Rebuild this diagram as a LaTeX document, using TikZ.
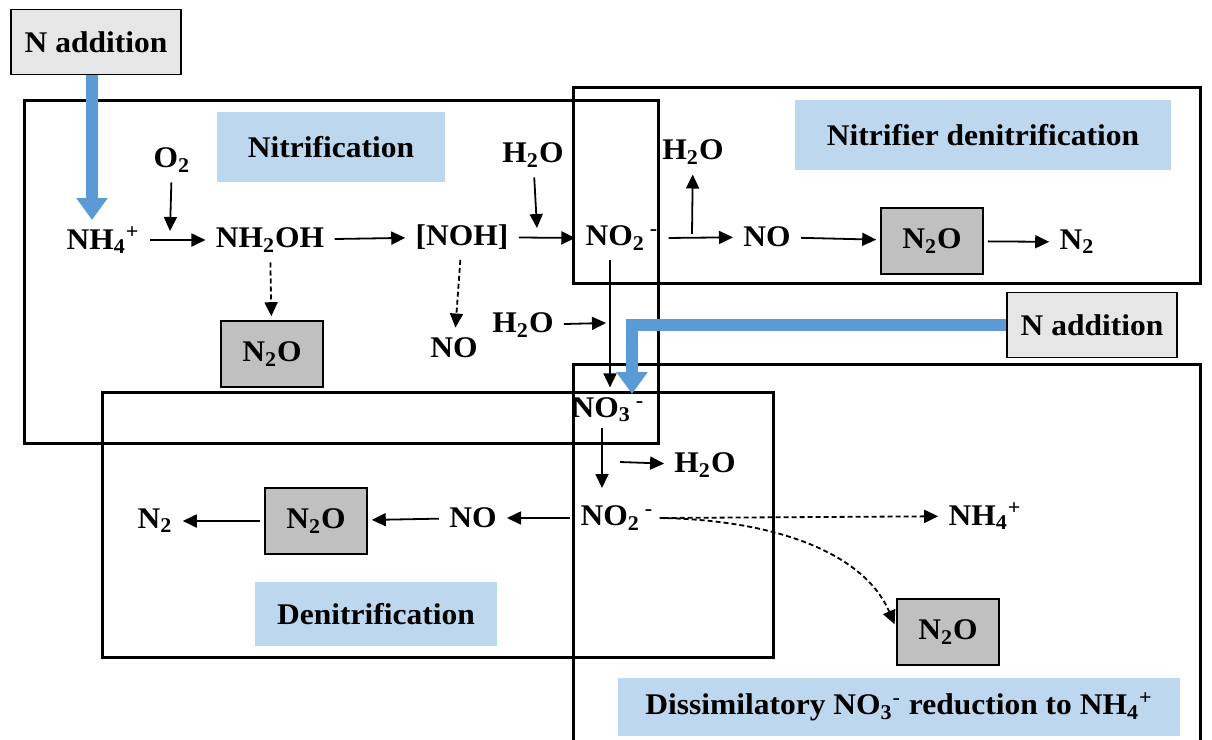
\documentclass[tikz,border=0pt]{standalone}
\usepackage{fontspec}
\setmainfont{Liberation Serif}[FakeStretch=1.05]
\usetikzlibrary{arrows.meta,calc}
\definecolor{cblue}{HTML}{5B9BD5}
\definecolor{clab}{HTML}{BDD7EE}
\definecolor{cgas}{HTML}{C0C0C0}
\definecolor{cadd}{HTML}{E7E6E6}
\newcommand{\ion}[2]{\textsubscript{#1}\textsuperscript{#2}}

\begin{document}
\begin{tikzpicture}[
  x=0.5pt, y=-0.5pt,
  font=\fontsize{15pt}{18pt}\selectfont\bfseries,
  >={Triangle[length=7pt,width=6.5pt]},
  sp/.style={inner sep=3pt},
  lab/.style={fill=clab, inner sep=0pt},
  gas/.style={draw, fill=cgas, line width=0.8pt, minimum width=51pt, minimum height=33pt},
  add/.style={draw, fill=cadd, line width=0.9pt, minimum width=85pt, minimum height=32.5pt},
  zone/.style={draw, line width=1.5pt},
  rx/.style={->, line width=0.9pt, shorten >=2pt, shorten <=2pt},
  rxd/.style={rx, dash pattern=on 2.5pt off 1.5pt},
  feed/.style={-{Triangle[length=11pt,width=15pt]}, line width=6pt, draw=cblue},
]
\useasboundingbox (0,0) rectangle (1212,740);

% ---- process zones ----
\draw[zone] (24,100) rectangle (658,443);
\draw[zone] (573,87) rectangle (1200,283);
\draw[zone] (102,392) rectangle (773,657);
\draw[zone] (573,745) -- (573,364) -- (1200,364) -- (1200,745);

% ---- zone labels ----
\node[lab, minimum width=114pt, minimum height=35pt] (labnit) at (331,147) {Nitrification};
\node[lab, minimum width=188pt, minimum height=35pt] (labnd) at (983,135) {Nitrifier denitrification};
\node[lab, minimum width=121pt, minimum height=32pt] (labden) at (376,614) {Denitrification};
\node[lab, minimum width=281pt, minimum height=29pt] (labdnra) at (899,707)
  {Dissimilatory NO\ion{3}{-} reduction to NH\ion{4}{+}};

% ---- N inputs ----
\node[add] (addA) at (96,42) {N addition};
\node[add] (addB) at (1092,325) {N addition};

% ---- nitrification ----
\node[sp] (nh4a) at (103,240) {NH\ion{4}{+}};
\node[sp] (o2) at (172,160) {O\textsubscript{2}};
\node[sp] (nh2oh) at (270,240) {NH\textsubscript{2}OH};
\node[sp] (noh) at (462,237) {[NOH]};
\node[sp] (h2oa) at (533,155) {H\textsubscript{2}O};
\node[sp] (no2a) at (622,238) {NO\textsubscript{2}\,\textsuperscript{-}};
\node[gas] (n2ob) at (272,354) {N\textsubscript{2}O};
\node[sp] (nob) at (454,348) {NO};
\node[sp] (h2oc) at (523,325) {H\textsubscript{2}O};

% ---- nitrifier denitrification ----
\node[sp] (h2ob) at (693,152) {H\textsubscript{2}O};
\node[sp] (noa) at (767,237) {NO};
\node[gas] (n2oa) at (932,241) {N\textsubscript{2}O};
\node[sp] (n2a) at (1077,242) {N\textsubscript{2}};

% ---- denitrification / DNRA ----
\node[sp] (no3) at (608,410) {NO\textsubscript{3}\,\textsuperscript{-}};
\node[sp] (h2od) at (705,465) {H\textsubscript{2}O};
\node[sp] (no2b) at (617,518) {NO\textsubscript{2}\,\textsuperscript{-}};
\node[sp] (noc) at (473,518) {NO};
\node[gas] (n2oc) at (316,521) {N\textsubscript{2}O};
\node[sp] (n2b) at (155,521) {N\textsubscript{2}};
\node[sp] (nh4b) at (985,516) {NH\textsubscript{4}\textsuperscript{+}};
\node[gas] (n2od) at (948,632) {N\textsubscript{2}O};

% ---- free ends on reaction lines ----
\coordinate (o2in) at (170,231);
\coordinate (h2oain) at (537,228);
\coordinate (h2obout) at (692,234);
\coordinate (h2ocin) at (606,323);
\coordinate (nh4in) at (92,220);
\coordinate (no3in) at (632,394);
\coordinate (no3out) at (602,428);
\coordinate (no2bin) at (602,492);
\coordinate (h2odout) at (620,462);

% ---- flows ----
\draw[rx] (nh4a) -- (nh2oh);
\draw[rx, shorten >=0pt] (o2) -- (o2in);
\draw[rx] (nh2oh) -- (noh);
\draw[rx, shorten >=0pt] (h2oa) -- (h2oain);
\draw[rx] (noh) -- (no2a.west);
\draw[rx] (no2a.east) -- (noa);
\draw[rx, shorten <=0pt] (h2obout) -- (h2ob);
\draw[rx] (noa) -- (n2oa);
\draw[rx] (n2oa) -- (n2a);
\draw[rxd] (nh2oh) -- (n2ob);
\draw[rxd] (noh) -- (nob);
\draw[rx, shorten >=0pt] (h2oc) -- (h2ocin);
\draw[rx] (no2a.south -| 610,0) -- (no3.north -| 610,0);
\draw[rx, shorten <=0pt] (no3out) -- (no2bin);
\draw[rx, shorten <=0pt] (h2odout) -- (h2od);
\draw[rx] (no2b) -- (noc);
\draw[rx] (noc) -- (n2oc);
\draw[rx] (n2oc) -- (n2b);
\draw[rxd] (no2b.east) -- (nh4b);
\draw[rxd, shorten <=0pt] (no2b.east) .. controls (780,520) and (865,555) .. (n2od.west |- 0,628);

% ---- N addition feeds ----
\draw[feed] (addA.south -| nh4in) -- (nh4in);
\draw[feed] (addB.west) -| (no3in);
\end{tikzpicture}
\end{document}
